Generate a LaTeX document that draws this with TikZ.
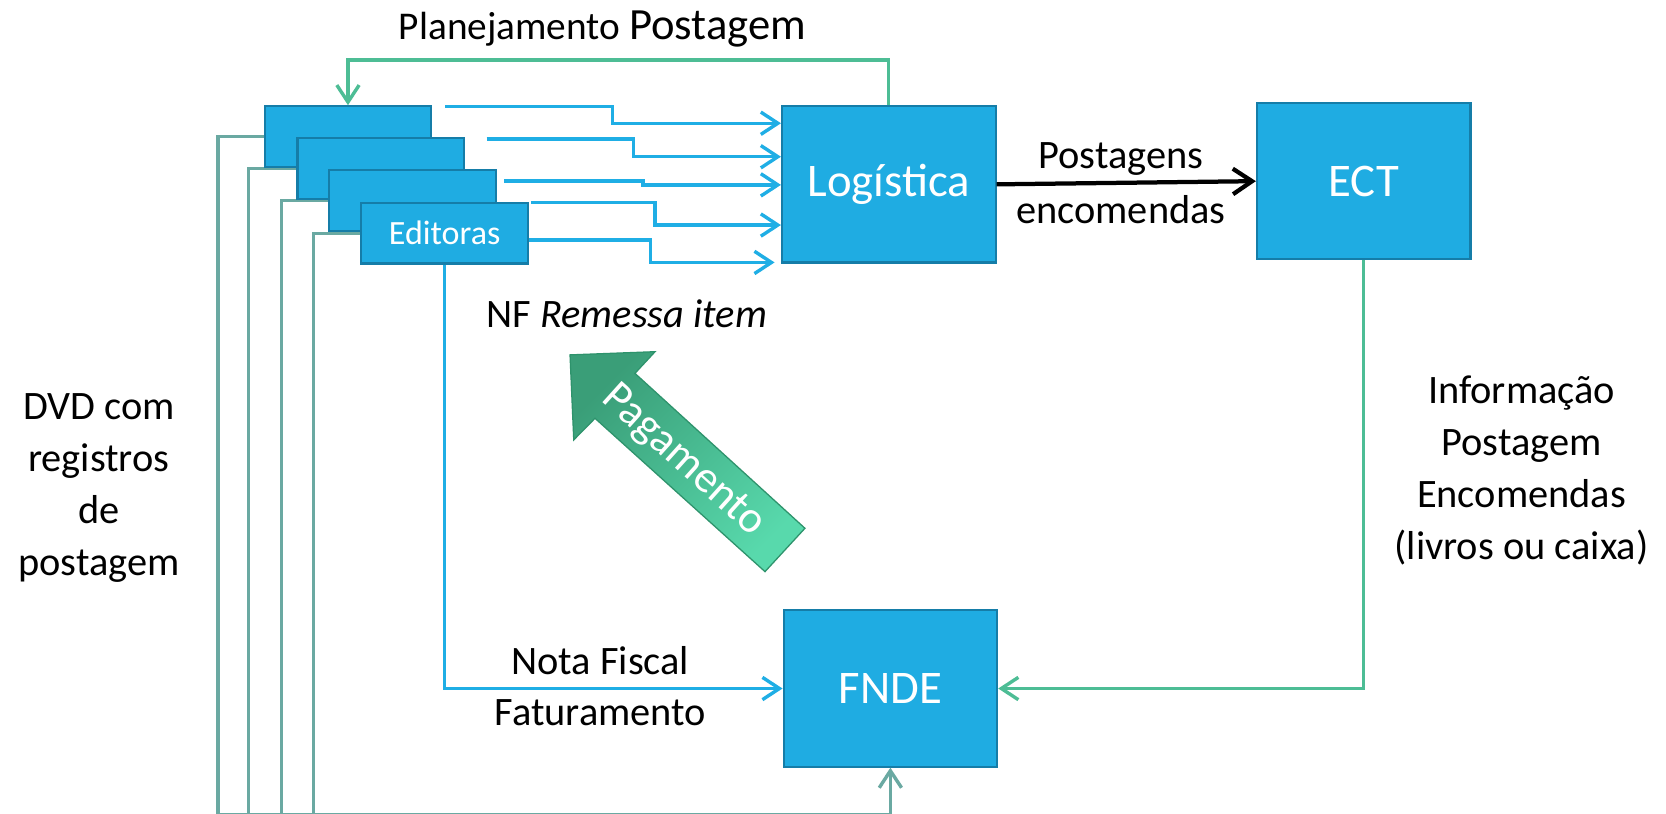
\documentclass[tikz,border=0pt]{standalone}
\usepackage{fontspec}
\setmainfont{Carlito}
\usetikzlibrary{arrows.meta,calc}
\definecolor{boxblue}{HTML}{1FACE2}
\definecolor{boxedge}{HTML}{157DA8}
\definecolor{lineblue}{HTML}{1FAEE5}
\definecolor{grn}{HTML}{4DBD95}
\definecolor{gry}{HTML}{6AA9A2}
\definecolor{pagdark}{HTML}{3A9E78}
\definecolor{paglight}{HTML}{58D9AC}
\definecolor{pagedge}{HTML}{2E936C}
\begin{document}
\begin{tikzpicture}[x=0.5pt,y=-0.5pt,
  pub/.style={draw=boxedge,line width=1pt,fill=boxblue,minimum width=78.5pt,minimum height=28.5pt,inner sep=0pt,text=white,font=\fontsize{16}{19}\selectfont},
  bigbox/.style={draw=boxedge,line width=1pt,fill=boxblue,minimum width=100.5pt,minimum height=73.5pt,inner sep=0pt,text=white,font=\fontsize{22}{26}\selectfont},
  arr/.style={-{Straight Barb[length=8pt,width=10.5pt]}},
  bl/.style={draw=lineblue,line width=1.6pt},
  gl/.style={draw=grn,line width=1.6pt},
  gy/.style={draw=gry,line width=1.6pt},
  lbl/.style={font=\fontsize{19}{24.5}\selectfont,align=center,inner sep=0pt}
]
\useasboundingbox (0,0) rectangle (1568,766);
\fill[white] (0,0) rectangle (1568,766);

% coordinates for gray lines
\coordinate (gb) at (205,767);
% publisher box centres
\path (327.5,128.5) coordinate (c1) (358.5,158.5) coordinate (c2)
      (388.5,188.5) coordinate (c3) (418.5,219.5) coordinate (c4);

% main boxes
\node[bigbox] (log) at (836.5,173.5) {Logística};
\node[bigbox] (ect) at (1283.5,170.5) {ECT};
\node[bigbox] (fnde) at (838,648) {FNDE};

% gray lines (behind publisher boxes)
\draw[gy] ($(c1)+(-39.25pt,0)$) -| (205,767);
\draw[gy] ($(c2)+(-39.25pt,0)$) -| (234,767);
\draw[gy] ($(c3)+(-39.25pt,0)$) -| (265,767);
\draw[gy] ($(c4)+(-39.25pt,0)$) -| (295,767);
\draw[gy,arr] (gb) -| (fnde.south);

% publisher boxes
\node[pub] (b1) at (c1) {};
\node[pub] (b2) at (c2) {};
\node[pub] (b3) at (c3) {};
\node[pub] (b4) at (c4) {Editoras};

% blue lines to Logistica
\coordinate (sa) at (419,100);
\coordinate (sb) at (458,131);
\coordinate (sc) at (474.5,170.4);
\coordinate (sd) at (500,190.8);
\coordinate (ee) at (729,247);
\draw[bl,arr] (sa) -- (576.5,100) |- (log.west |- 0,116);
\draw[bl,arr] (sb) -- (596,131) |- (log.west |- 0,147.5);
\draw[bl,arr] (sc) -- (605,170.4) |- (log.west |- 0,174);
\draw[bl,arr] (sd) -- (616.6,190.8) |- (log.west |- 0,211.8);
\draw[bl,arr] (b4.east |- 0,226) -- (612.5,226) |- (ee);

% green planning line
\draw[gl,arr] (log.north) -- (log.north |- 0,56.5) -| (b1.north);
\node[anchor=base,inner sep=0pt] (plan) at (567,37) {\fontsize{18.5}{22}\selectfont Planejamento {\fontsize{21}{24}\selectfont Postagem}};

% black arrow
\draw[line width=2pt,-{Straight Barb[length=9pt,width=12pt]}] (log.east) -- (ect.west);
\node[lbl] (pg) at (1055,150) {Postagens};
\node[lbl] (enc) at (1055,197) {encomendas};

% ECT to FNDE
\draw[gl,arr] (ect.south) |- (fnde.east);

% Editoras to FNDE
\draw[bl,arr] (b4.south) |- (fnde.west);
\node[lbl] (nf) at (565,622) {Nota Fiscal};
\node[lbl] (fat) at (565,671) {Faturamento};

\node[lbl] (nfr) at (590,295) {NF \textit{Remessa item}};

\node[lbl] (dvd) at (93,459) {DVD com\\registros\\de\\postagem};
\node[lbl] (info) at (1432,443) {Informação\\Postagem\\Encomendas\\(livros ou caixa)};

% Pagamento arrow
\shade[top color=pagdark,bottom color=paglight,shading angle=45,draw=pagedge,line width=0.6pt]
  (536.5,334) -- (616.5,331) -- (597.6,351.4) -- (757.6,497.2) -- (720,538) -- (560,393.7) -- (540,414) -- cycle;
\node[rotate=-42,text=white,font=\fontsize{21}{24}\selectfont,inner sep=0pt] (pag) at (643,434) {Pagamento};
\end{tikzpicture}
\end{document}
